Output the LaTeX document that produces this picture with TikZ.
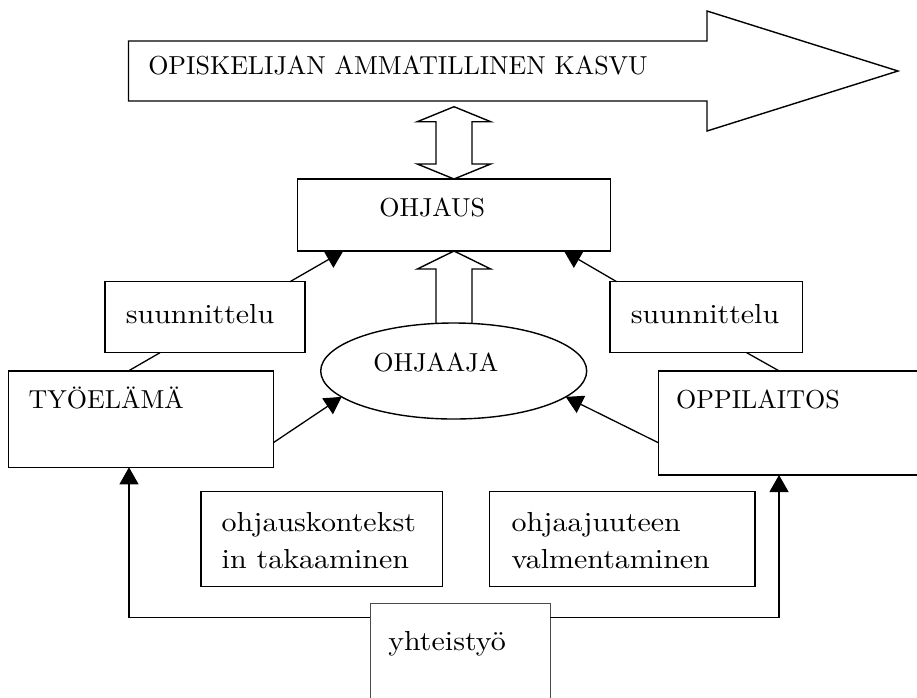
\documentclass[tikz,border=0pt]{standalone}
\usepackage{fontspec}
\usetikzlibrary{arrows.meta,calc,shapes.geometric}
% Latin Modern at its 10pt design size, plus a slightly wider cut for lower-case labels
\newfontfamily\lmten{lmroman10-regular}[Extension=.otf]
\newfontfamily\widelm{lmroman10-regular}[Extension=.otf, FakeStretch=1.09]
\begin{document}
\begin{tikzpicture}[x=1pt,y=-1pt,
  every node/.style={font={\lmten\fontsize{26}{36}\selectfont}, inner sep=0pt, outer sep=0pt},
  box/.style={draw, line width=1.4pt, rectangle, anchor=north west},
  openbox/.style={draw=black!70, line width=0.9pt, rectangle, anchor=north west},
  oval/.style={draw, line width=1.4pt, ellipse},
  txt/.style={anchor=base},
  ltxt/.style={anchor=base west},
  small/.style={font={\widelm\fontsize{27.5}{36}\selectfont}},
  link/.style={line width=1.3pt},
  tip/.style={line width=1.3pt, -{Triangle[length=17pt,width=19pt]}},
  hollow/.style={draw, line width=1.4pt, fill=white, line join=miter}]

% canvas
\fill[white] (0,0) rectangle (917,697);
\path[use as bounding box, clip] (0,0) rectangle (917,697);

% growth arrow
\draw[hollow] (128.5,41) -- (707,41) -- (707,11) -- (898,71) -- (707,131)
  -- (707,101) -- (128.5,101) -- cycle;
\node[txt] (title) at (398,74) {OPISKELIJAN AMMATILLINEN KASVU};

% boxes
\node[box, minimum width=313.4pt, minimum height=72pt] (ohjaus) at (297.3,179) {};
\node[box, minimum width=200pt, minimum height=71pt] (sL) at (105,281.7) {};
\node[box, minimum width=192.7pt, minimum height=71pt] (sR) at (610,281.7) {};
\node[box, minimum width=265pt, minimum height=96.3pt] (tyo) at (8.3,371) {};
\node[box, minimum width=280pt, minimum height=104pt] (opp) at (658.3,371) {};
\node[box, minimum width=241.3pt, minimum height=95pt] (ctx) at (201,491.7) {};
\node[box, minimum width=265.7pt, minimum height=95pt] (val) at (489.3,491.7) {};
\node[openbox, minimum width=180pt, minimum height=130pt] (yht) at (370,603.3) {};

% two-way arrow between growth and guidance
\begin{scope}[shift={(ohjaus.north)}]
  \draw[hollow] (0,-72.3) -- (36.7,-57.3) -- (18,-57.3) -- (18,-15) -- (36.7,-15)
    -- (0,0) -- (-36.7,-15) -- (-18,-15) -- (-18,-57.3) -- (-36.7,-57.3) -- cycle;
\end{scope}

% supervisor up to guidance
\begin{scope}[shift={(ohjaus.south)}]
  \draw[hollow] (-18,72.5) -- (-18,18) -- (-36.7,18) -- (0,0) -- (36.7,18)
    -- (18,18) -- (18,72.5);
\end{scope}

\node[oval, minimum width=266pt, minimum height=96pt] (ohjaaja) at (453.7,371) {};

% texts
\node[txt] (tOhjaus) at (432.2,216.7) {OHJAUS};
\node[txt, small] (tSL) at (200,323.3) {suunnittelu};
\node[txt, small] (tSR) at (705,323.3) {suunnittelu};
\node[txt] (tOhjaaja) at (435.8,371.7) {OHJAAJA};
\node[txt] (tTyo) at (106.3,408.3) {TYÖELÄMÄ};
\node[txt] (tOpp) at (758,408.3) {OPPILAITOS};
\node[ltxt, small] (tCtxA) at (221.7,531.7) {ohjauskontekst};
\node[ltxt, small] (tCtxB) at (221.7,568) {in takaaminen};
\node[ltxt, small] (tValA) at (511.7,531.7) {ohjaajuuteen};
\node[ltxt, small] (tValB) at (511.7,568.3) {valmentaminen};
\node[ltxt, small] (tYht) at (388.3,650) {yhteistyö};

% planning feeds guidance
\draw[tip] ($(sL.north east)+(-15,0)$) -- ($(ohjaus.south west)+(46,0)$);
\draw[tip] ($(sR.north west)+(6.7,0)$) -- ($(ohjaus.south east)+(-46.7,0)$);
\draw[link] ($(sL.south west)+(55,0)$) -- ($(tyo.north west)+(120,0)$);
\draw[link] ($(sR.south west)+(136.7,0)$) -- ($(opp.north west)+(121,0)$);

% workplace and school towards the supervisor
\draw[tip] ($(tyo.south east)+(0,-24.6)$) -- (ohjaaja.193);
\draw[tip] ($(opp.north west)+(0,71.7)$) -- (ohjaaja.-13);

% cooperation
\draw[tip] ($(yht.north west)+(0,14)$) -| ($(tyo.south west)+(120.7,0)$);
\draw[tip] ($(yht.north east)+(0,14)$) -| ($(opp.south west)+(120.7,0)$);

\end{tikzpicture}
\end{document}
